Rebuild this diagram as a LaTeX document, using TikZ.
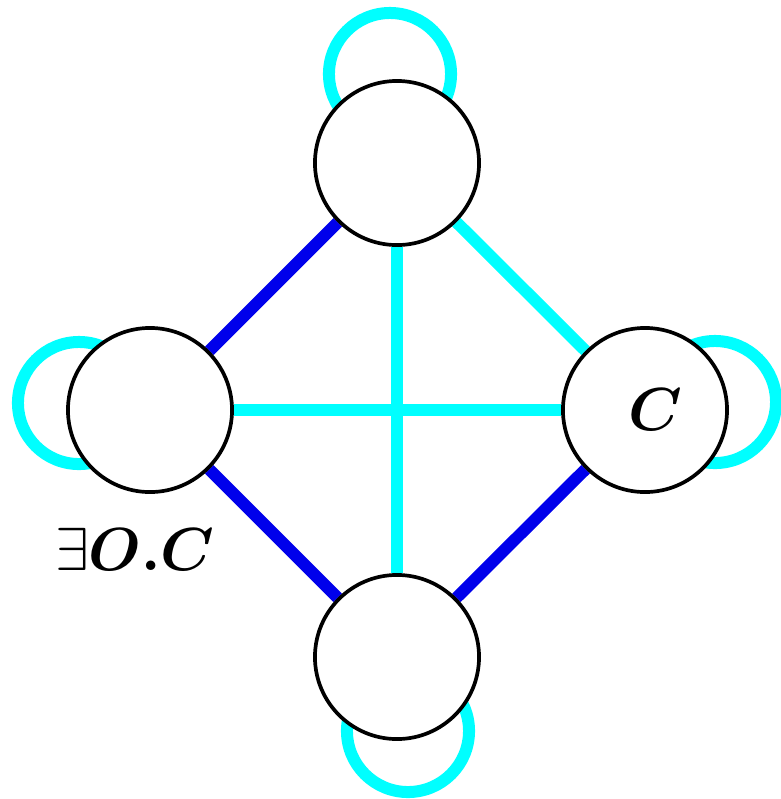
\documentclass[tikz,border=0pt]{standalone}
\definecolor{gcyan}{RGB}{0,255,255}
\definecolor{gblue}{RGB}{0,0,235}
\usepackage{amsmath,amssymb,bm}
\usepackage{tikz}
\usetikzlibrary{backgrounds}

\begin{document}
\begin{tikzpicture}[x=0.01cm, y=-0.01cm,
    vertex/.style={draw, circle, fill=white, line width=1.05pt,
                   minimum size=1.64cm, inner sep=0pt},
    cyanedge/.style={gcyan, line width=0.12cm},
    blueedge/.style={gblue, line width=0.12cm},
    loopline/.style={gcyan, line width=0.12cm},
    lbl/.style={font=\fontsize{19}{21}\selectfont, inner sep=0pt},
  ]
    \useasboundingbox (0,0) rectangle (781,799);

    \node[vertex] (top)   at (397,163) {};
    \node[vertex] (left)  at (150,410) {};
    \node[vertex] (right) at (645,410) {};
    \node[vertex] (bot)   at (397,657) {};

    \node[lbl] (cname)  at (655,410) {$\bm{C}$};
    \node[lbl] (exname) at (135,549) {$\exists\bm{O.C}$};

    \begin{scope}[on background layer]
      \draw[blueedge] (top)   -- (left);
      \draw[blueedge] (left)  -- (bot);
      \draw[blueedge] (right) -- (bot);
      \draw[cyanedge] (top)   -- (right);
      \draw[cyanedge] (top)   -- (bot);
      \draw[cyanedge] (left)  -- (right);

      % self loops
      \draw[loopline] ([shift={(-7,-89)}]top.center)  circle[radius=0.61cm];
      \draw[loopline] ([shift={(-71,-7)}]left.center) circle[radius=0.61cm];
      \draw[loopline] ([shift={(70,-8)}]right.center) circle[radius=0.61cm];
      \draw[loopline] ([shift={(11,74)}]bot.center)   circle[radius=0.61cm];
    \end{scope}
\end{tikzpicture}
\end{document}
